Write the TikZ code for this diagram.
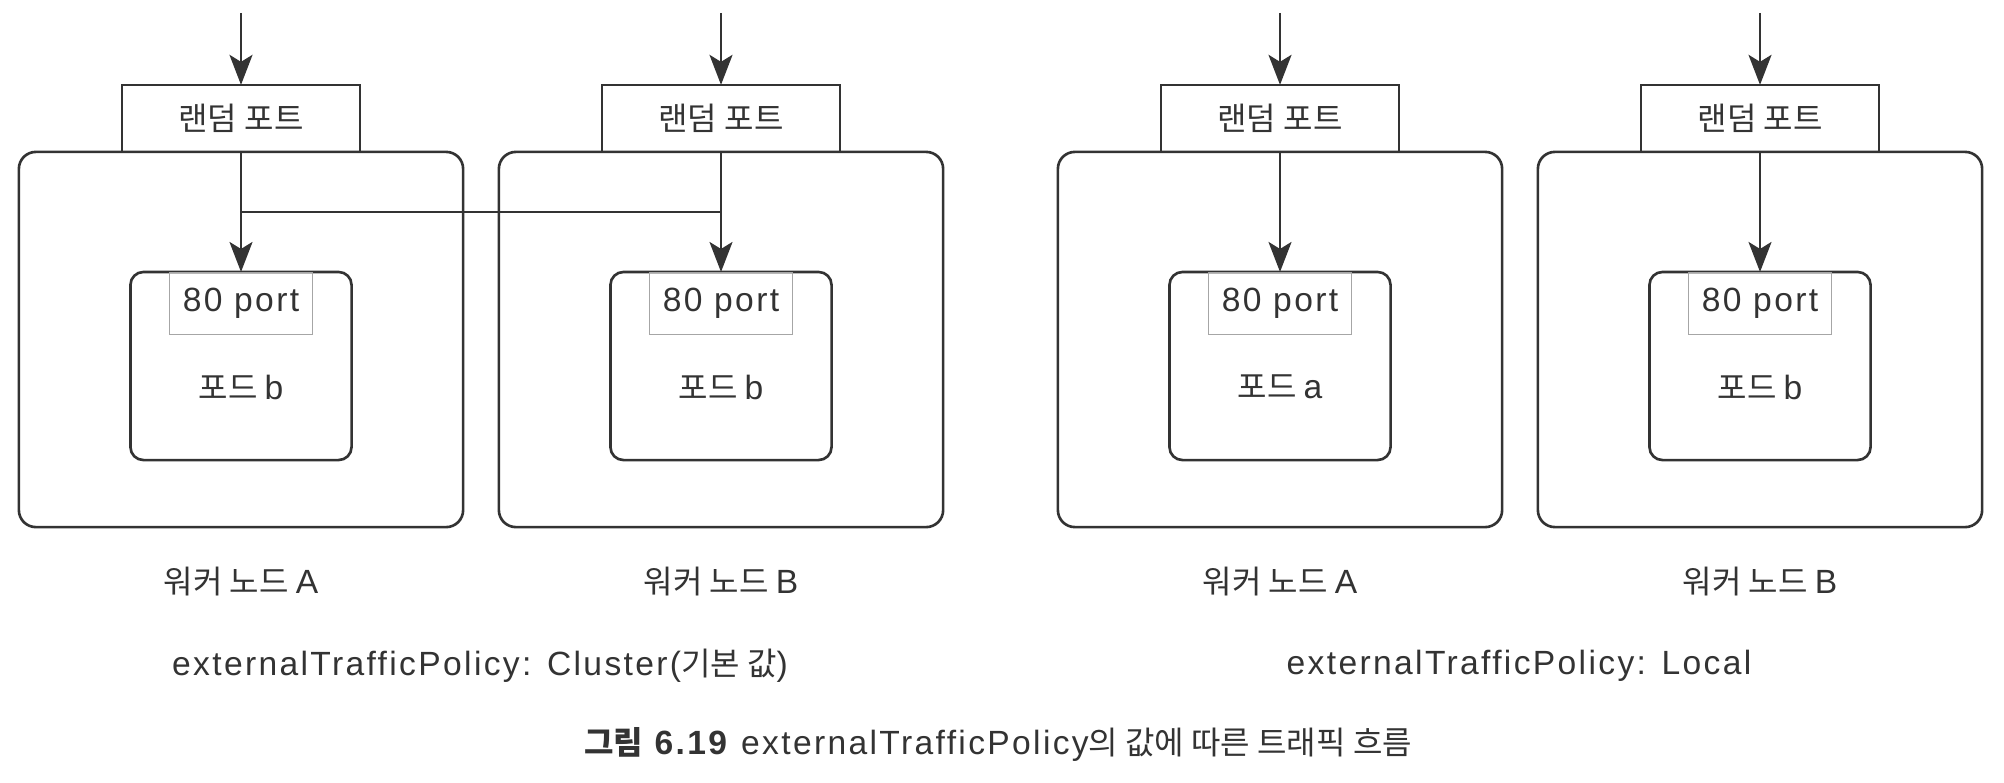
\documentclass[tikz,border=0pt]{standalone}
\usepackage{fontspec}
\setmainfont{Liberation Sans}[Scale=1.05, LetterSpace=7]
\newfontfamily\kr{Noto Sans CJK KR}
\usepackage{xcolor}
\usepackage{tikz}
\usetikzlibrary{arrows.meta,positioning}
\definecolor{ink}{HTML}{333333}

\begin{document}
\begin{tikzpicture}[
    x=0.01cm, y=-0.01cm,
    font=\fontsize{9.1pt}{11pt}\selectfont, text=ink,
    node distance=1.2cm,
    worker/.style={rectangle, draw=ink, line width=0.75pt, rounded corners=1.7mm,
                minimum width=4.44cm, minimum height=3.75cm, outer sep=0pt},
    randport/.style={rectangle, draw=ink, line width=0.75pt, minimum width=2.38cm,
                minimum height=0.67cm, inner sep=0pt, outer sep=0pt},
    pod/.style={rectangle, draw=ink, line width=0.75pt, rounded corners=1.3mm,
                minimum width=2.21cm, minimum height=1.88cm, outer sep=0pt},
    podport/.style={rectangle, draw=gray!70, line width=0.3pt, minimum width=1.43cm,
                minimum height=0.62cm, inner sep=0pt},
    arrow/.style={-{Stealth[length=3mm, width=2.3mm, inset=0.7mm]}, draw=ink, line width=0.65pt},
]
    \useasboundingbox (0,0) rectangle (2004,782);

    % worker nodes
    \node[worker] (wn1) at (241,339.5) {};
    \node[worker] (wn2) at (721,339.5) {};
    \node[worker] (wn3) at (1280,339.5) {};
    \node[worker] (wn4) at (1760,339.5) {};

    % random ports
    \node[randport, above=0pt of wn1] (rp1) {\kr 랜덤 포트};
    \node[randport, above=0pt of wn2] (rp2) {\kr 랜덤 포트};
    \node[randport, above=0pt of wn3] (rp3) {\kr 랜덤 포트};
    \node[randport, above=0pt of wn4] (rp4) {\kr 랜덤 포트};

    % pods
    \node[pod, below=of wn1.north] (pd1) {};
    \node[pod, below=of wn2.north] (pd2) {};
    \node[pod, below=of wn3.north] (pd3) {};
    \node[pod, below=of wn4.north] (pd4) {};
    \node[podport, anchor=north] (pp1) at (pd1.north) {80 port};
    \node[podport, anchor=north] (pp2) at (pd2.north) {80 port};
    \node[podport, anchor=north] (pp3) at (pd3.north) {80 port};
    \node[podport, anchor=north] (pp4) at (pd4.north) {80 port};
    \node (pt1) at ([yshift=-2.1mm]pd1.center) {{\kr 포드 }b};
    \node (pt2) at ([yshift=-2.1mm]pd2.center) {{\kr 포드 }b};
    \node (pt3) at ([yshift=-2.1mm]pd3.center) {{\kr 포드 }a};
    \node (pt4) at ([yshift=-2.1mm]pd4.center) {{\kr 포드 }b};

    % labels
    \node (lb1) at ([yshift=-5.4mm]wn1.south) {{\kr 워커 노드 }A};
    \node (lb2) at ([yshift=-5.4mm]wn2.south) {{\kr 워커 노드 }B};
    \node (lb3) at ([yshift=-5.4mm]wn3.south) {{\kr 워커 노드 }A};
    \node (lb4) at ([yshift=-5.4mm]wn4.south) {{\kr 워커 노드 }B};
    \node (pol1) at (480,666) {externalTrafficPolicy: Cluster({\kr 기본 값})};
    \node (pol2) at (1519,666) {externalTrafficPolicy: Local};
    \node (cap) at (998,744) {{\kr\bfseries 그림} \textbf{6.19} externalTrafficPolicy{\kr 의 값에 따른 트래픽 흐름}};

    % traffic
    \coordinate (in1) at (241,13);
    \coordinate (in2) at (721,13);
    \coordinate (in3) at (1280,13);
    \coordinate (in4) at (1760,13);
    \coordinate (split) at (241,212);
    \draw[arrow] (in1) -- (rp1);
    \draw[arrow] (in2) -- (rp2);
    \draw[arrow] (in3) -- (rp3);
    \draw[arrow] (in4) -- (rp4);
    \draw[arrow] (rp1) -- (pd1);
    \draw[arrow] (rp2) -- (pd2);
    \draw[arrow] (rp3) -- (pd3);
    \draw[arrow] (rp4) -- (pd4);
    \draw[draw=ink, line width=0.65pt] (split) -- (split -| pd2.north);
\end{tikzpicture}
\end{document}
